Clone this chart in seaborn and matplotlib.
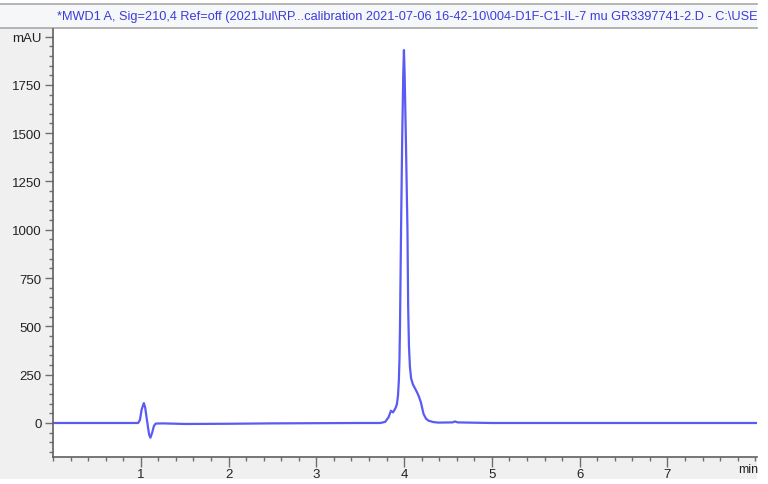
import matplotlib
matplotlib.use("Agg")
import matplotlib.pyplot as plt
import seaborn as sns
import numpy as np
import pandas as pd
from matplotlib.patches import Rectangle
from matplotlib.ticker import MultipleLocator, FixedLocator, FixedFormatter

# ---- data ----
time_min = [0.00, 0.50, 0.97, 0.99, 1.01, 1.035, 1.05, 1.075, 1.095, 1.11, 1.13, 1.15, 1.17,
            1.25, 1.50, 2.00, 2.50, 3.00, 3.50, 3.73, 3.785, 3.823, 3.850, 3.873, 3.887,
            3.905, 3.918, 3.930, 3.940, 3.947, 3.953, 3.965, 3.978, 3.990, 3.998, 4.006,
            4.020, 4.038, 4.046, 4.055, 4.066, 4.080, 4.100, 4.125, 4.146, 4.170, 4.191,
            4.221, 4.250, 4.278, 4.330, 4.388, 4.550, 4.580, 4.610, 5.00, 6.00, 7.00, 8.02]
signal_mau = [0, 0, 0, 15, 70, 103, 80, 0, -60, -76, -50, -15, -3,
              -2, -5, -4, -2, -1, 0, 0, 6, 30, 63, 55, 65,
              80, 98, 140, 220, 330, 500, 1000, 1470, 1800, 1930, 1800,
              1470, 1000, 600, 400, 290, 230, 200, 178, 160, 135, 107,
              47, 22, 12, 5, 2, 3, 8, 3, 0, 0, 0, 0]

x_major = [1, 2, 3, 4, 5, 6, 7]
x_labels = ["1", "2", "3", "4", "5", "6", "7"]
y_major = [0, 250, 500, 750, 1000, 1250, 1500, 1750, 2000]
y_labels = ["0", "250", "500", "750", "1000", "1250", "1500", "1750", "mAU"]
title_text = ("*MWD1 A, Sig=210,4 Ref=off (2021Jul\\RP...calibration 2021-07-06 16-42-10\\"
              "004-D1F-C1-IL-7 mu GR3397741-2.D - C:\\USE")

df = pd.DataFrame({"time": time_min, "signal": signal_mau})

W, H = 768, 485
fig = plt.figure(figsize=(W / 100, H / 100), dpi=100, facecolor="white")
plt.rcParams["font.family"] = ["Liberation Sans", "DejaVu Sans"]

def fx(px):
    return px / W

def fy(py):
    return 1 - py / H

# grey panel
fig.patches.append(Rectangle((0, fy(480)), fx(757), (480 - 5) / H,
                             transform=fig.transFigure, facecolor="#f0f0f0",
                             edgecolor="none", zorder=-5))

# title band
tax = fig.add_axes([0, fy(29), fx(757), 24 / H])
tax.set_facecolor("#f6f7f9")
tax.set_xticks([]); tax.set_yticks([])
for s in ["left", "right"]:
    tax.spines[s].set_visible(False)
for s in ["top", "bottom"]:
    tax.spines[s].set_color("#a8a8a8")
    tax.spines[s].set_linewidth(1.2)
tax.text(57 / 757, 0.48, title_text, transform=tax.transAxes, ha="left", va="center",
         color="#3b3bdc", fontsize=9.2, clip_on=True)

# main plot
ax = fig.add_axes([fx(53), fy(458), fx(757 - 53), (458 - 30) / H])
ax.set_facecolor("white")
sns.lineplot(data=df, x="time", y="signal", ax=ax, color="#5a5af5", lw=1.6,
             estimator=None, sort=False)
ax.set_xlim(0.0, 8.02)
ax.set_ylim(-176, 2039)
ax.set_xlabel("")
ax.set_ylabel("")

ax.xaxis.set_major_locator(FixedLocator(x_major))
ax.xaxis.set_major_formatter(FixedFormatter(x_labels))
ax.xaxis.set_minor_locator(MultipleLocator(0.2))
ax.yaxis.set_major_locator(FixedLocator(y_major))
ax.yaxis.set_major_formatter(FixedFormatter(y_labels))
ax.yaxis.set_minor_locator(MultipleLocator(50))

ax.tick_params(axis="x", which="major", length=7, width=1, color="#707070",
               labelsize=9.5, labelcolor="#222222", pad=1)
ax.tick_params(axis="x", which="minor", length=3, width=1, color="#707070")
ax.tick_params(axis="y", which="major", length=6, width=1, color="#707070",
               labelsize=9.5, labelcolor="#222222", pad=2)
ax.tick_params(axis="y", which="minor", length=3, width=1, color="#707070")

for s in ["top", "right"]:
    ax.spines[s].set_visible(False)
ax.spines["left"].set_color("#606060")
ax.spines["bottom"].set_color("#606060")
ax.spines["left"].set_linewidth(1.2)
ax.spines["bottom"].set_linewidth(1.2)

fig.text(fx(738), fy(470), "min", ha="left", va="center", fontsize=9, color="#222222")

fig.savefig("out.png", dpi=100, facecolor=fig.get_facecolor())
